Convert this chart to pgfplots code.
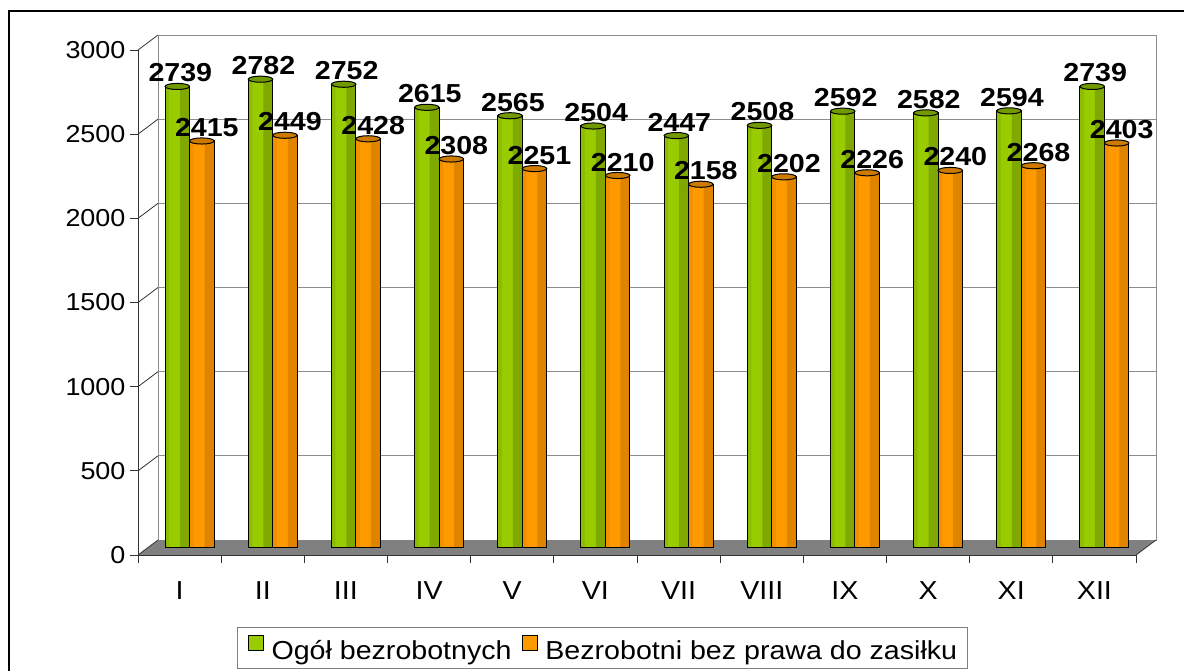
\documentclass[border=0pt]{standalone}
\usepackage{fontspec}
\setmainfont[FakeStretch=1.1]{Liberation Sans}
\usepackage{pgfplots}
\pgfplotsset{compat=1.18}

\definecolor{gA}{HTML}{8CBD00}
\definecolor{gB}{HTML}{99CC00}
\definecolor{gD}{HTML}{7FA800}
\definecolor{gcap}{HTML}{739900}
\definecolor{oA}{HTML}{F29000}
\definecolor{oB}{HTML}{FF9900}
\definecolor{oD}{HTML}{E08400}
\definecolor{ocap}{HTML}{CC7A00}
\definecolor{floorgray}{HTML}{808080}
\definecolor{wallgray}{HTML}{8C8C8C}

\pgfplotstableread{
x    total  nobenefit
0.5  2739   2415
1.5  2782   2449
2.5  2752   2428
3.5  2615   2308
4.5  2565   2251
5.5  2504   2210
6.5  2447   2158
7.5  2508   2202
8.5  2592   2226
9.5  2582   2240
10.5 2594   2268
11.5 2739   2403
}\months

\begin{document}
\begin{tikzpicture}[x=1pt,y=1pt]
\useasboundingbox (0,0) rectangle (1184,670);
\fill[white] (0,0) rectangle (1184,670);
\draw[line width=2pt] (8.5,-10) -- (8.5,659) -- (1200,659);

\begin{axis}[at={(138pt,115pt)}, anchor=south west, scale only axis,
  width=998pt, height=505pt, xmin=0, xmax=12, ymin=0, ymax=3000,
  axis x line*=bottom, axis y line*=left,
  axis line style={black!80, line width=0.8pt, -},
  clip=false, tick align=outside, major tick length=8pt,
  tick style={black!80, line width=0.8pt},
  ytick={0,500,...,3000},
  yticklabel style={font=\fontsize{24.5}{28}\selectfont, xshift=-1pt,
    /pgf/number format/.cd, 1000 sep={}, assume math mode=true},
  xtick={0,...,12}, xticklabels={},
  extra x ticks={0.5,1.5,...,11.5},
  extra x tick labels={I,II,III,IV,V,VI,VII,VIII,IX,X,XI,XII},
  extra x tick style={major tick length=0pt,
    tick label style={font=\fontsize{26}{30}\selectfont, yshift=-23pt}},
  legend columns=2,
  legend style={at={(axis description cs:0.4654,-0.1842)}, anchor=center,
    draw=gray, line width=1pt, font=\fontsize{26}{30}\selectfont,
    inner xsep=10pt, inner ysep=8pt, nodes={inner sep=0pt},
    /tikz/every odd column/.append style={column sep=8pt},
    /tikz/every even column/.append style={column sep=10pt}},
  nodes near coords style={font=\fontsize{26}{30}\selectfont\bfseries,
    anchor=south, inner sep=0pt, yshift=4pt,
    /pgf/number format/.cd, 1000 sep={}, assume math mode=true},
  every axis plot/.append style={xshift=10pt, yshift=7.5pt},
]
% back wall, grid and floor
\filldraw[fill=white, draw=wallgray, line width=1pt]
  ([shift={(20pt,15pt)}]axis cs:0,0) rectangle ([shift={(20pt,15pt)}]axis cs:12,3000);
\pgfplotsinvokeforeach{500,1000,...,2500}{
  \draw[wallgray, line width=1pt] ([shift={(20pt,15pt)}]axis cs:0,#1) -- ([shift={(20pt,15pt)}]axis cs:12,#1);
}
\pgfplotsinvokeforeach{500,1000,...,3000}{
  \draw[black!80, line width=0.8pt] (axis cs:0,#1) -- ++(20pt,15pt);
}
\fill[floorgray] (axis cs:0,0) -- (axis cs:12,0) -- ++(20pt,15pt)
  -- ([shift={(20pt,15pt)}]axis cs:0,0) -- cycle;
\draw[black!80, line width=0.8pt] (axis cs:0,0) -- ++(20pt,15pt);
\draw[black!80, line width=0.8pt] (axis cs:12,0) -- ++(20pt,15pt);
\draw[black!80, line width=0.8pt] (axis cs:0,0) -- (axis cs:12,0);

% green bars: body, shaded side strips, outline, top cap
\addplot[ybar, bar width=24.5pt, bar shift=-12.25pt, fill=gB, draw=none,
  legend image code/.code={\draw[black, line width=0.8pt, fill=gB] (0pt,-7.5pt) rectangle (15pt,7.5pt); \path (0pt,-13.5pt);}]
  table[x=x, y=total] {\months};
\addlegendentry{Ogół bezrobotnych}
\addplot[ybar, forget plot, bar width=4pt, bar shift=-22.5pt, fill=gA, draw=none]
  table[x=x, y=total] {\months};
\addplot[ybar, forget plot, bar width=9.5pt, bar shift=-4.75pt, fill=gD, draw=none]
  table[x=x, y=total] {\months};
\addplot[ybar, forget plot, bar width=24.5pt, bar shift=-12.25pt, fill=none, draw=black, line width=1pt]
  table[x=x, y=total] {\months};
\addplot[only marks, forget plot, mark=*, mark size=12.25pt,
  mark options={yscale=0.25, fill=gcap, draw=black, line width=1pt},
  xshift=-12.25pt]
  table[x=x, y=total] {\months};

% orange bars
\addplot[ybar, bar width=24.5pt, bar shift=12.25pt, fill=oB, draw=none,
  legend image code/.code={\draw[black, line width=0.8pt, fill=oB] (0pt,-7.5pt) rectangle (15pt,7.5pt); \path (0pt,-13.5pt);}]
  table[x=x, y=nobenefit] {\months};
\addlegendentry{Bezrobotni bez prawa do zasiłku}
\addplot[ybar, forget plot, bar width=4pt, bar shift=2pt, fill=oA, draw=none]
  table[x=x, y=nobenefit] {\months};
\addplot[ybar, forget plot, bar width=9.5pt, bar shift=19.75pt, fill=oD, draw=none]
  table[x=x, y=nobenefit] {\months};
\addplot[ybar, forget plot, bar width=24.5pt, bar shift=12.25pt, fill=none, draw=black, line width=1pt]
  table[x=x, y=nobenefit] {\months};
\addplot[only marks, forget plot, mark=*, mark size=12.25pt,
  mark options={yscale=0.25, fill=ocap, draw=black, line width=1pt},
  xshift=12.25pt]
  table[x=x, y=nobenefit] {\months};

% value labels
\addplot[only marks, mark=none, forget plot, nodes near coords, xshift=-9.25pt]
  table[x=x, y=total] {\months};
\addplot[only marks, mark=none, forget plot, nodes near coords, xshift=17.25pt]
  table[x=x, y=nobenefit] {\months};
\end{axis}
\end{tikzpicture}
\end{document}
